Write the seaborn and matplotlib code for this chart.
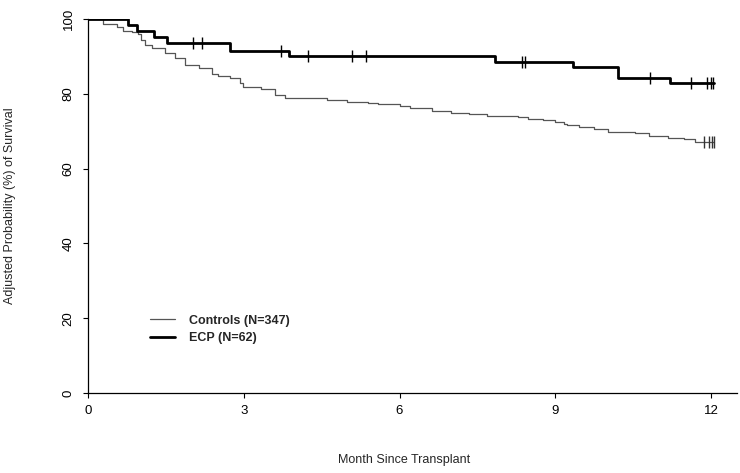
import numpy as np
import pandas as pd
import seaborn as sns
import matplotlib
matplotlib.use("Agg")
import matplotlib.pyplot as plt

sns.set_style("ticks")
plt.rcParams['font.family'] = ['Liberation Sans', 'DejaVu Sans']

# Survival curves (month, adjusted survival %)
ecp_month = [0, 0.77, 0.94, 1.28, 1.53, 2.74, 3.88, 7.83, 9.35, 10.20, 11.20, 12.05]
ecp_surv = [100, 98.4, 96.8, 95.2, 93.7, 91.4, 90.1, 88.6, 87.1, 84.3, 82.9, 82.9]
ecp_censor = [2.03, 2.19, 3.71, 4.23, 5.09, 5.36, 8.36, 8.42, 10.83, 11.62,
              11.93, 11.99, 12.04]

ctrl_month = [0, 0.29, 0.55, 0.68, 0.84, 0.97, 1.03, 1.09, 1.23, 1.48, 1.68,
              1.87, 2.13, 2.38, 2.51, 2.74, 2.93, 2.99, 3.34, 3.60, 3.80,
              4.60, 4.98, 5.40, 5.59, 6.01, 6.20, 6.62, 7.00, 7.33, 7.68,
              8.29, 8.48, 8.77, 9.00, 9.16, 9.22, 9.45, 9.74, 10.02, 10.54,
              10.80, 11.18, 11.47, 11.70, 12.05]
ctrl_surv = [100, 98.6, 97.9, 96.9, 96.4, 96.0, 94.4, 93.0, 92.2, 91.0, 89.5,
             87.7, 86.8, 85.2, 84.8, 84.1, 82.8, 81.7, 81.2, 79.8, 78.8,
             78.3, 77.8, 77.5, 77.2, 76.7, 76.1, 75.5, 75.0, 74.6, 74.1,
             73.7, 73.3, 73.0, 72.4, 71.8, 71.7, 71.0, 70.6, 69.9, 69.4,
             68.8, 68.1, 67.8, 67.2, 67.2]
ctrl_censor = [11.86, 11.97, 12.01, 12.05]

x_ticks = [0, 3, 6, 9, 12]
y_ticks = [0, 20, 40, 60, 80, 100]


def surv_at(t, months, surv):
    idx = np.searchsorted(months, t, side='right') - 1
    return np.array(surv)[idx]


fig = plt.figure(figsize=(7.4, 4.73), dpi=100)
ax = fig.add_axes([88 / 740, 1 - 393 / 473, 649 / 740, 374 / 473])

ctrl = pd.DataFrame({'month': ctrl_month, 'surv': ctrl_surv})
ecp = pd.DataFrame({'month': ecp_month, 'surv': ecp_surv})

sns.lineplot(data=ctrl, x='month', y='surv', ax=ax, drawstyle='steps-post',
             estimator=None, color='#555555', linewidth=0.9,
             label='Controls (N=347)')
sns.lineplot(data=ecp, x='month', y='surv', ax=ax, drawstyle='steps-post',
             estimator=None, color='black', linewidth=2.0,
             label='ECP (N=62)')

# censoring marks
ax.plot(ctrl_censor, surv_at(ctrl_censor, ctrl_month, ctrl_surv),
        linestyle='none', marker='|', markersize=9, markeredgewidth=1.0,
        color='#333333')
ax.plot(ecp_censor, surv_at(ecp_censor, ecp_month, ecp_surv),
        linestyle='none', marker='|', markersize=9, markeredgewidth=1.0,
        color='black')

ax.set_xlim(0, 12.5)
ax.set_ylim(0, 100)
ax.set_xticks(x_ticks)
ax.set_yticks(y_ticks)
ax.tick_params(axis='both', direction='out', length=3.6, width=0.8,
               labelsize=9.5, colors='black')
ax.tick_params(axis='x', pad=5)
ax.tick_params(axis='y', pad=6)
for lab in ax.get_yticklabels():
    lab.set_rotation(90)
    lab.set_va('center')

sns.despine(ax=ax)
for s in ['left', 'bottom']:
    ax.spines[s].set_linewidth(0.9)
    ax.spines[s].set_color('black')

ax.set_xlabel('Month Since Transplant', fontsize=9)
ax.set_ylabel('Adjusted Probability (%) of Survival', fontsize=9)
ax.xaxis.set_label_coords(0.487, -0.163)
ax.yaxis.set_label_coords(-0.111, 0.5)

leg = ax.legend(loc='center left', bbox_to_anchor=(0.0955, 0.17),
                frameon=False, borderpad=0, borderaxespad=0,
                handlelength=2.0, handletextpad=1.1, labelspacing=0.45,
                prop={'weight': 'bold', 'size': 9})

fig.savefig('out.png', dpi=100)
